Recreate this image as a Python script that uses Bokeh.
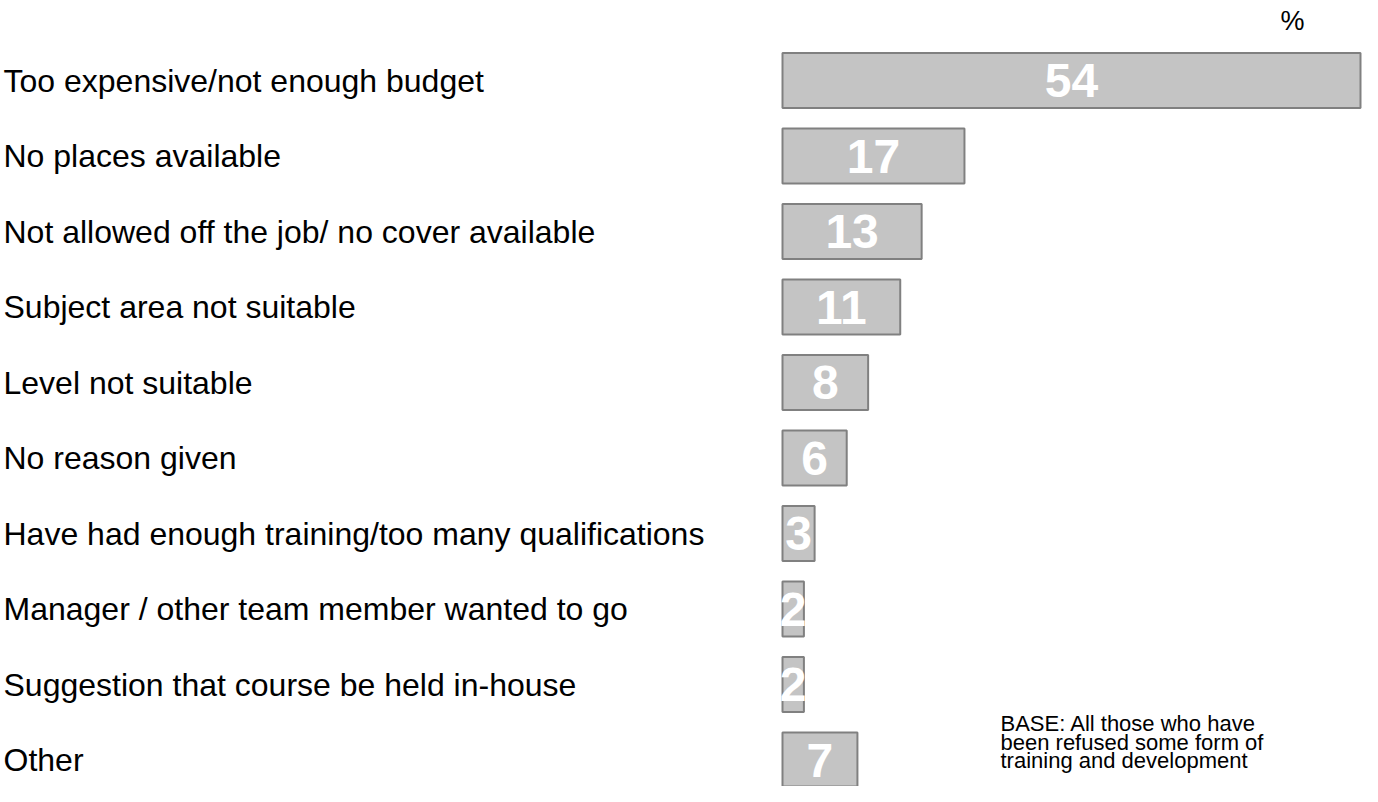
from bokeh.plotting import figure
from bokeh.models import ColumnDataSource, Range1d, Label
from bokeh.core.properties import value
from bokeh.embed import file_html
from bokeh.resources import INLINE

categories = [
    "Too expensive/not enough budget",
    "No places available",
    "Not allowed off the job/ no cover available",
    "Subject area not suitable",
    "Level not suitable",
    "No reason given",
    "Have had enough training/too many qualifications",
    "Manager / other team member wanted to go",
    "Suggestion that course be held in-house",
    "Other",
]
values = [54, 17, 13, 11, 8, 6, 3, 2, 2, 7]
value_labels = [str(v) for v in values]
base_note = ["BASE: All those who have", "been refused some form of", "training and development"]

W, H = 1362, 786
bar_x0, bar_x1 = 782, 1360
k = (bar_x1 - bar_x0) / 54.0      # px per percent
row = 75.5                         # px per row
first_row = 80.0
x_start = -bar_x0 / k
x_end = x_start + W / k
y_top = -first_row / row
y_bot = y_top + H / row

idx = list(range(len(categories)))
src = ColumnDataSource(dict(
    y=idx, v=values, half=[v / 2 for v in values], lab=value_labels,
    cat=categories, lx=[x_start] * len(idx),
))

p = figure(width=W, height=H, output_backend="svg", toolbar_location=None,
           x_range=Range1d(x_start, x_end), y_range=Range1d(y_bot, y_top),
           min_border=0, min_border_left=0, min_border_right=0,
           min_border_top=0, min_border_bottom=0)
p.axis.visible = False
p.grid.visible = False
p.outline_line_color = None
p.background_fill_color = "white"

p.hbar(y="y", left=0, right="v", height=55 / row, source=src,
       fill_color="#c4c4c4", line_color="#808080", line_width=2)

p.text(x="half", y="y", text="lab", source=src, text_align="center",
       text_baseline="middle", text_color="white", text_font_style="bold",
       text_font=value("Liberation Sans"), text_font_size="48px")

p.text(x="lx", y="y", text="cat", source=src, text_align="left",
       text_baseline="middle", text_color="black", x_offset=3,
       text_font=value("Liberation Sans"), text_font_size="32px")

p.add_layout(Label(x=1292, y=H - 20, x_units="screen", y_units="screen",
                   text="%", text_align="center", text_baseline="middle",
                   text_font="Liberation Sans", text_font_size="27px", text_color="black"))

for i, line in enumerate(base_note):
    p.add_layout(Label(x=1000, y=H - (723 + 18.5 * i), x_units="screen", y_units="screen",
                       text=line, text_align="left", text_baseline="middle",
                       text_font="Liberation Sans", text_font_size="22px", text_color="black"))

open("out.html", "w").write(file_html(p, INLINE))
